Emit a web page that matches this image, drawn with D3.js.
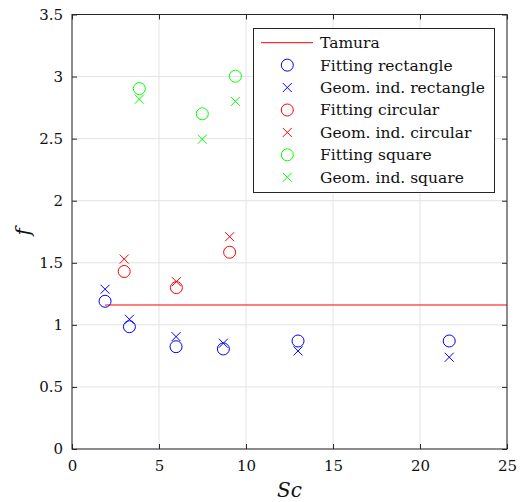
<!DOCTYPE html>
<html>
<head>
<meta charset="utf-8">
<script src="https://cdn.jsdelivr.net/npm/d3@7"></script>
<style>
  body { margin: 0; background: #fff; }
</style>
</head>
<body>
<svg id="fig" width="522" height="502"></svg>
<script>
// data
const rectSc = [1.9, 3.3, 5.98, 8.7, 12.99, 21.68];
const rectFit = [1.19, 0.985, 0.824, 0.806, 0.87, 0.87];
const rectGeom = [1.287, 1.045, 0.905, 0.852, 0.79, 0.739];

const circSc = [3.0, 6.0, 9.06];
const circFit = [1.43, 1.30, 1.585];
const circGeom = [1.53, 1.348, 1.71];

const sqSc = [3.87, 7.49, 9.39];
const sqFit = [2.903, 2.70, 3.003];
const sqGeom = [2.818, 2.496, 2.80];

const tamuraSc = [1.9, 25];
const tamuraF = [1.16, 1.16];

const xTicks = [0, 5, 10, 15, 20, 25];
const yTicks = [0, 0.5, 1, 1.5, 2, 2.5, 3, 3.5];

const legendLabels = ["Tamura", "Fitting rectangle", "Geom. ind. rectangle",
  "Fitting circular", "Geom. ind. circular", "Fitting square", "Geom. ind. square"];

const serif = "'DejaVu Serif', serif";
const svg = d3.select("#fig");
const pLeft = 72, pRight = 507, pTop = 14.5, pBottom = 449;

const x = d3.scaleLinear().domain([0, 25]).range([pLeft, pRight]);
const y = d3.scaleLinear().domain([0, 3.5]).range([pBottom, pTop]);

// grid
svg.append("g").selectAll("line").data(xTicks).join("line")
  .attr("x1", d => x(d)).attr("x2", d => x(d)).attr("y1", pTop).attr("y2", pBottom)
  .attr("stroke", "#e3e3e3").attr("stroke-width", 1);
svg.append("g").selectAll("line").data(yTicks).join("line")
  .attr("y1", d => y(d)).attr("y2", d => y(d)).attr("x1", pLeft).attr("x2", pRight)
  .attr("stroke", "#e3e3e3").attr("stroke-width", 1);

// tamura line
svg.append("path")
  .datum(tamuraSc.map((s, i) => [s, tamuraF[i]]))
  .attr("d", d3.line().x(d => x(d[0])).y(d => y(d[1])))
  .attr("stroke", "#ff0000").attr("fill", "none").attr("stroke-width", 1);

function circles(xs, ys, color) {
  svg.append("g").selectAll("circle").data(xs).join("circle")
    .attr("cx", d => x(d)).attr("cy", (d, i) => y(ys[i])).attr("r", 6)
    .attr("fill", "none").attr("stroke", color).attr("stroke-width", 1);
}
function crosses(xs, ys, color) {
  const s = 4.5;
  svg.append("g").selectAll("path").data(xs).join("path")
    .attr("d", (d, i) => {
      const cx = x(d), cy = y(ys[i]);
      return `M${cx - s},${cy - s}L${cx + s},${cy + s}M${cx - s},${cy + s}L${cx + s},${cy - s}`;
    })
    .attr("fill", "none").attr("stroke", color).attr("stroke-width", 1);
}

circles(rectSc, rectFit, "#0000ff");
crosses(rectSc, rectGeom, "#0000ff");
circles(circSc, circFit, "#ff0000");
crosses(circSc, circGeom, "#ff0000");
circles(sqSc, sqFit, "#00ff00");
crosses(sqSc, sqGeom, "#00ff00");

// axes box
const axisColor = "#262626";
svg.append("g").attr("transform", `translate(0,${pBottom})`)
  .call(d3.axisBottom(x).tickValues(xTicks).tickSize(-5).tickPadding(11).tickFormat(d3.format("d")))
  .call(g => g.select(".domain").remove());
svg.append("g").attr("transform", `translate(0,${pTop})`)
  .call(d3.axisTop(x).tickValues(xTicks).tickSize(-5).tickFormat(""))
  .call(g => g.select(".domain").remove());
svg.append("g").attr("transform", `translate(${pLeft},0)`)
  .call(d3.axisLeft(y).tickValues(yTicks).tickSize(-5).tickPadding(9).tickFormat(d => d))
  .call(g => g.select(".domain").remove());
svg.append("g").attr("transform", `translate(${pRight},0)`)
  .call(d3.axisRight(y).tickValues(yTicks).tickSize(-5).tickFormat(""))
  .call(g => g.select(".domain").remove());
svg.selectAll(".tick line").attr("stroke", axisColor);
svg.selectAll(".tick text").style("font-family", serif).style("font-size", "15px").attr("fill", "#111");
svg.append("rect").attr("x", pLeft).attr("y", pTop).attr("width", pRight - pLeft).attr("height", pBottom - pTop)
  .attr("fill", "none").attr("stroke", axisColor).attr("stroke-width", 1);

// axis titles
svg.append("text").attr("x", (pLeft + pRight) / 2).attr("y", 497).attr("text-anchor", "middle")
  .style("font-family", serif).style("font-size", "20px").style("font-style", "italic")
  .attr("fill", "#111").text("Sc");
svg.append("text").attr("transform", `translate(30,${(pTop + pBottom) / 2}) rotate(-90)`)
  .attr("text-anchor", "middle").style("font-family", serif).style("font-size", "20px")
  .style("font-style", "italic").attr("fill", "#111").text("f");

// legend
const lg = svg.append("g");
lg.append("rect").attr("x", 253.5).attr("y", 28.5).attr("width", 241).attr("height", 164)
  .attr("fill", "#fff").attr("stroke", axisColor).attr("stroke-width", 1);
const rowY = i => 42.7 + i * 22.43;
const markers = [
  {type: "line", color: "#ff0000"},
  {type: "o", color: "#0000ff"}, {type: "x", color: "#0000ff"},
  {type: "o", color: "#ff0000"}, {type: "x", color: "#ff0000"},
  {type: "o", color: "#00ff00"}, {type: "x", color: "#00ff00"}
];
markers.forEach((m, i) => {
  const cy = rowY(i), cx = 287.3;
  if (m.type === "line") {
    lg.append("line").attr("x1", 261).attr("x2", 313).attr("y1", cy).attr("y2", cy)
      .attr("stroke", m.color);
  } else if (m.type === "o") {
    lg.append("circle").attr("cx", cx).attr("cy", cy).attr("r", 6)
      .attr("fill", "none").attr("stroke", m.color);
  } else {
    const s = 4.5;
    lg.append("path").attr("d", `M${cx - s},${cy - s}L${cx + s},${cy + s}M${cx - s},${cy + s}L${cx + s},${cy - s}`)
      .attr("fill", "none").attr("stroke", m.color);
  }
  lg.append("text").attr("x", 320).attr("y", cy + 5.5)
    .style("font-family", serif).style("font-size", "15.5px")
    .attr("fill", "#111").text(legendLabels[i]);
});
</script>
</body>
</html>
